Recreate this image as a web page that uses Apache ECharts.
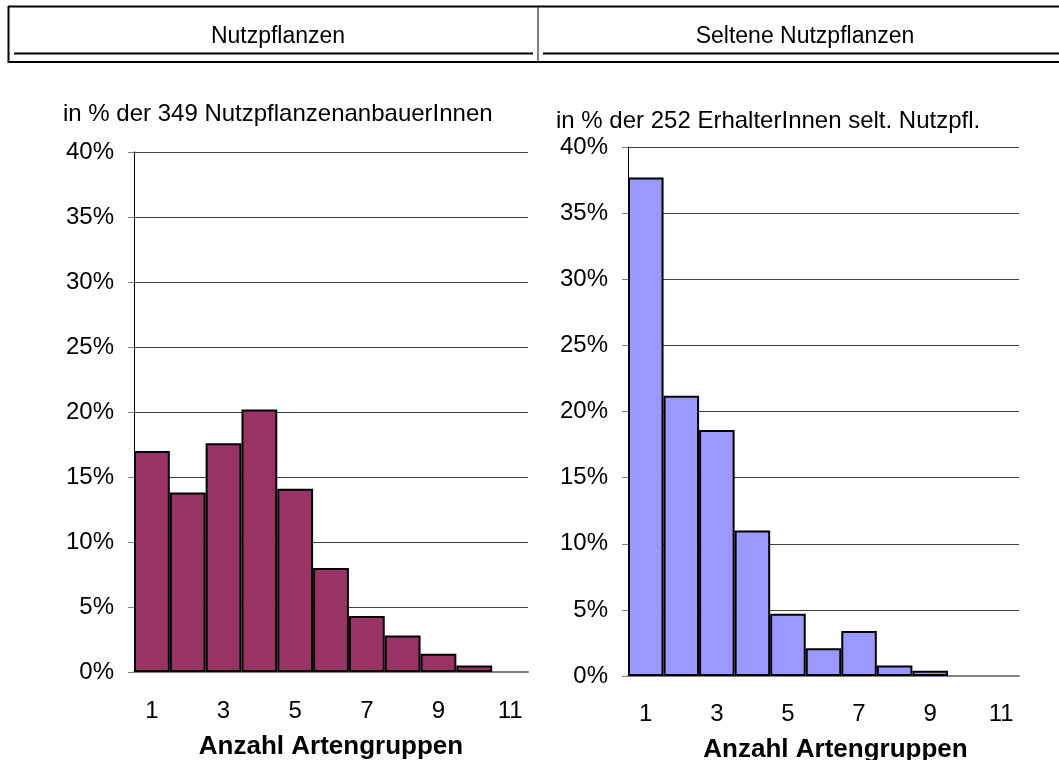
<!DOCTYPE html>
<html>
<head>
<meta charset="utf-8">
<script src="https://cdn.jsdelivr.net/npm/echarts@6/dist/echarts.min.js"></script>
<style>
  html, body { margin: 0; padding: 0; background: #fff; }
  #chart { width: 1059px; height: 760px; }
</style>
</head>
<body>
<div id="chart"></div>
<script>
const FONT = '"Liberation Sans", Arial, sans-serif';

// Anzahl Artengruppen 1..11
const categories = ['1', '2', '3', '4', '5', '6', '7', '8', '9', '10', '11'];
// in % der 349 NutzpflanzenanbauerInnen
const nutzpflanzen = [17.0, 13.8, 17.6, 20.2, 14.1, 8.0, 4.3, 2.8, 1.4, 0.5, 0];
// in % der 252 ErhalterInnen selt. Nutzpfl.
const selten = [37.7, 21.2, 18.6, 11.0, 4.7, 2.1, 3.4, 0.8, 0.4, 0, 0];

const headers = ['Nutzpflanzen', 'Seltene Nutzpflanzen'];
const subtitles = ['in % der 349 NutzpflanzenanbauerInnen', 'in % der 252 ErhalterInnen selt. Nutzpfl.'];
const xName = 'Anzahl Artengruppen';

const chart = echarts.init(document.getElementById('chart'));

// leere Kategorien nicht als Nulllinie zeichnen
const bars = vals => vals.map(v => (v > 0 ? v : null));

function xAxisFor(gridIndex, labelMargin, nameGap, namePad) {
  return {
    type: 'category',
    gridIndex,
    data: categories,
    boundaryGap: true,
    name: xName,
    nameLocation: 'middle',
    nameGap,
    nameTextStyle: { fontFamily: FONT, fontSize: 26, fontWeight: 'bold', color: '#000', padding: namePad },
    axisLine: { lineStyle: { color: '#808080', width: 2 } },
    axisTick: { interval: 0, alignWithLabel: false, length: 8, lineStyle: { color: '#000', width: 1 } },
    axisLabel: { interval: 1, margin: labelMargin, fontFamily: FONT, fontSize: 24, color: '#000' },
    splitLine: { show: false },
  };
}

function yAxisFor(gridIndex) {
  return {
    type: 'value',
    gridIndex,
    min: 0,
    max: 40,
    interval: 5,
    axisLine: { show: true, lineStyle: { color: '#000', width: 1 } },
    axisTick: { show: true, length: 6, lineStyle: { color: '#808080', width: 1 } },
    axisLabel: { margin: 20, fontFamily: FONT, fontSize: 24, color: '#000', formatter: '{value}%' },
    splitLine: { show: true, lineStyle: { color: '#404040', width: 1 } },
  };
}

const option = {
  backgroundColor: '#fff',
  animation: false,
  title: [
    { text: headers[0], left: 273, top: 32, textAlign: 'center', textVerticalAlign: 'middle',
      textStyle: { fontFamily: FONT, fontSize: 23, fontWeight: 'normal', color: '#000' } },
    { text: headers[1], left: 800, top: 32, textAlign: 'center', textVerticalAlign: 'middle',
      textStyle: { fontFamily: FONT, fontSize: 23, fontWeight: 'normal', color: '#000' } },
    { text: subtitles[0], left: 58, top: 97,
      textStyle: { fontFamily: FONT, fontSize: 24, fontWeight: 'normal', color: '#000' } },
    { text: subtitles[1], left: 551, top: 104,
      textStyle: { fontFamily: FONT, fontSize: 24, fontWeight: 'normal', color: '#000' } },
  ],
  graphic: [
    { type: 'line', shape: { x1: 8, y1: 6.5, x2: 1059, y2: 6.5 }, style: { stroke: '#000', lineWidth: 2 } },
    { type: 'line', shape: { x1: 8.5, y1: 6, x2: 8.5, y2: 63 }, style: { stroke: '#000', lineWidth: 2 } },
    { type: 'line', shape: { x1: 8, y1: 62, x2: 1059, y2: 62 }, style: { stroke: '#000', lineWidth: 2 } },
    { type: 'line', shape: { x1: 538, y1: 6, x2: 538, y2: 62 }, style: { stroke: '#000', lineWidth: 1 } },
    { type: 'line', shape: { x1: 14, y1: 53.5, x2: 533, y2: 53.5 }, style: { stroke: '#000', lineWidth: 2 } },
    { type: 'line', shape: { x1: 543, y1: 53.5, x2: 1059, y2: 53.5 }, style: { stroke: '#000', lineWidth: 2 } },
  ],
  grid: [
    { left: 134, right: 531, top: 152, bottom: 88, outerBoundsMode: 'none' },
    { left: 628, right: 40, top: 147, bottom: 84, outerBoundsMode: 'none' },
  ],
  xAxis: [
    xAxisFor(0, 27, 62, [0, 0, 0, 0]),
    xAxisFor(1, 26, 61, [0, 0, 0, 24]),
  ],
  yAxis: [yAxisFor(0), yAxisFor(1)],
  series: [
    {
      name: headers[0],
      type: 'bar',
      xAxisIndex: 0,
      yAxisIndex: 0,
      data: bars(nutzpflanzen),
      barCategoryGap: '0%',
      itemStyle: { color: '#993366', borderColor: '#000', borderWidth: 2 },
    },
    {
      name: headers[1],
      type: 'bar',
      xAxisIndex: 1,
      yAxisIndex: 1,
      data: bars(selten),
      barCategoryGap: '0%',
      itemStyle: { color: '#9999FF', borderColor: '#000', borderWidth: 2 },
    },
  ],
};

chart.setOption(option);
</script>
</body>
</html>
